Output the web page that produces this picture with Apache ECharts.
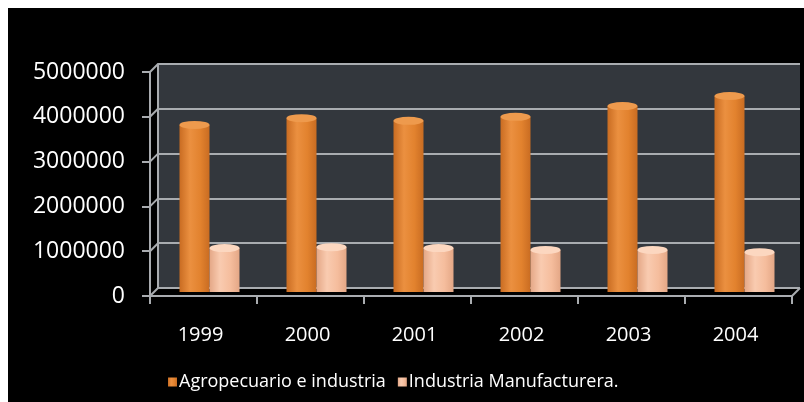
<!DOCTYPE html>
<html>
<head>
<meta charset="utf-8">
<script src="https://cdn.jsdelivr.net/npm/echarts@6/dist/echarts.min.js"></script>
<style>
  html, body { margin: 0; padding: 0; background: #ffffff; width: 804px; height: 402px; overflow: hidden; }
  #chart { position: absolute; left: 8px; top: 8px; width: 796px; height: 394px; background: #000000; }
</style>
</head>
<body>
<div id="chart"></div>
<script>
// Years on the category axis
const years = ['1999', '2000', '2001', '2002', '2003', '2004'];
// Series values
const agropecuario = [3730000, 3880000, 3820000, 3910000, 4150000, 4375000];
const manufacturera = [980000, 1000000, 980000, 940000, 940000, 890000];
// Value axis ticks
const yTicks = [0, 1000000, 2000000, 3000000, 4000000, 5000000];
const seriesNames = ['Agropecuario e industria', 'Industria Manufacturera.'];

const chart = echarts.init(document.getElementById('chart'), null, { renderer: 'canvas' });

const lineGray = '#a9acb0';
const depth = 8;

function cylinder(edge, mid, light) {
  return new echarts.graphic.LinearGradient(0, 0, 1, 0, [
    { offset: 0, color: edge },
    { offset: 0.35, color: light },
    { offset: 0.7, color: mid },
    { offset: 1, color: edge }
  ]);
}
const orangeFill = cylinder('#c96c22', '#e2822e', '#eb9040');
const peachFill = cylinder('#e4a786', '#f5bd9d', '#f9cbb0');

// three planes: front (axes), middle (columns), back (wall)
const frontGrid = { left: 142, top: 64, width: 642, height: 224 };
const midGrid = { left: 148, top: 60, width: 642, height: 224 };
const backGrid = { left: 150, top: 56, width: 642, height: 224 };

const valueAxisBase = { type: 'value', min: 0, max: 5000000, interval: 1000000 };

chart.setOption({
  backgroundColor: '#000000',
  animation: false,
  textStyle: { fontFamily: 'Open Sans' },
  grid: [
    Object.assign({}, frontGrid),
    Object.assign({}, midGrid),
    Object.assign({ show: true, backgroundColor: '#33373d', borderWidth: 0 }, backGrid)
  ],
  xAxis: [
    {
      type: 'category', data: years, gridIndex: 0,
      axisLine: { show: true, lineStyle: { color: lineGray, width: 2 } },
      axisTick: { show: true, length: 8, lineStyle: { color: lineGray, width: 2 } },
      axisLabel: {
        color: '#ffffff', fontSize: 20, fontFamily: 'Open Sans', margin: 29,
        padding: [0, 6, 0, 0]
      },
      splitLine: { show: false }
    },
    {
      type: 'category', data: years, gridIndex: 1,
      axisLine: { show: false }, axisTick: { show: false }, axisLabel: { show: false }
    },
    {
      type: 'category', data: years, gridIndex: 2,
      axisLine: { show: false }, axisTick: { show: false }, axisLabel: { show: false }
    }
  ],
  yAxis: [
    Object.assign({}, valueAxisBase, {
      gridIndex: 0,
      axisLine: { show: true, lineStyle: { color: lineGray, width: 2 } },
      axisTick: { show: true, length: 8, lineStyle: { color: lineGray, width: 2 } },
      axisLabel: {
        color: '#ffffff', fontSize: 23, fontFamily: 'Open Sans', margin: 25,
        formatter: v => String(v)
      },
      splitLine: { show: false }
    }),
    Object.assign({}, valueAxisBase, {
      gridIndex: 1,
      axisLine: { show: false }, axisTick: { show: false }, axisLabel: { show: false },
      splitLine: { show: false }
    }),
    Object.assign({}, valueAxisBase, {
      gridIndex: 2,
      axisLine: { show: true, lineStyle: { color: lineGray, width: 2 } },
      axisTick: { show: false }, axisLabel: { show: false },
      splitLine: { show: true, lineStyle: { color: lineGray, width: 2 } }
    })
  ],
  legend: {
    data: seriesNames,
    left: 155, top: 360,
    icon: 'rect', itemWidth: 9, itemHeight: 9, itemGap: 12,
    textStyle: { color: '#ffffff', fontSize: 18, fontFamily: 'Open Sans', padding: [0, 0, 0, -3] }
  },
  series: [
    // side-wall and floor edges joining the front axes to the back wall
    {
      type: 'custom', xAxisIndex: 0, yAxisIndex: 0, silent: true, z: 1,
      data: yTicks.map(v => [0, v]),
      renderItem: function (params, api) {
        const p = api.coord([0, api.value(1)]);
        const bw = api.size([1, 0])[0];
        const x0 = p[0] - bw / 2;
        const children = [{
          type: 'line',
          shape: { x1: x0, y1: p[1], x2: x0 + depth, y2: p[1] - depth },
          style: { stroke: lineGray, lineWidth: 2 }
        }];
        if (api.value(1) === 0) {
          const x1 = x0 + bw * years.length;
          children.push({
            type: 'line',
            shape: { x1: x1, y1: p[1], x2: x1 + depth, y2: p[1] - depth },
            style: { stroke: lineGray, lineWidth: 2 }
          });
        }
        return { type: 'group', children: children };
      }
    },
    {
      name: seriesNames[0], type: 'bar', xAxisIndex: 1, yAxisIndex: 1,
      data: agropecuario, barWidth: 30, barGap: '0%',
      itemStyle: { color: orangeFill }, z: 3
    },
    {
      name: seriesNames[1], type: 'bar', xAxisIndex: 1, yAxisIndex: 1,
      data: manufacturera, barWidth: 30, barGap: '0%',
      itemStyle: { color: peachFill }, z: 3
    },
    // elliptical tops of the cylinders
    {
      type: 'pictorialBar', xAxisIndex: 1, yAxisIndex: 1,
      data: agropecuario, barWidth: 30, barGap: '0%',
      symbol: 'circle', symbolSize: [30, 8], symbolPosition: 'end', symbolOffset: [0, '-50%'],
      itemStyle: { color: '#ee9a4d' }, z: 4
    },
    {
      type: 'pictorialBar', xAxisIndex: 1, yAxisIndex: 1,
      data: manufacturera, barWidth: 30, barGap: '0%',
      symbol: 'circle', symbolSize: [30, 8], symbolPosition: 'end', symbolOffset: [0, '-50%'],
      itemStyle: { color: '#fcd7c0' }, z: 4
    }
  ]
});
</script>
</body>
</html>
